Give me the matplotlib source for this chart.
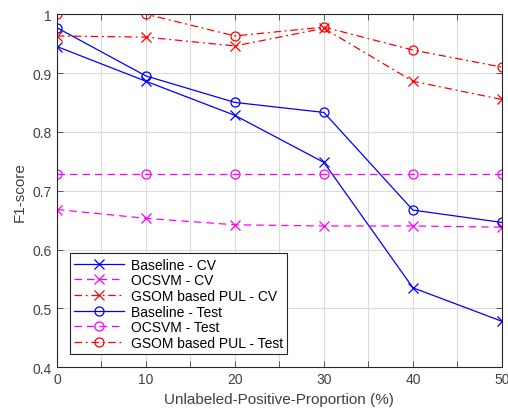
import numpy as np
import matplotlib
matplotlib.use("Agg")
import matplotlib.pyplot as plt

plt.rcParams['font.family'] = ['Liberation Sans', 'DejaVu Sans']

proportions = [0, 10, 20, 30, 40, 50]

baseline_cv = [0.945, 0.886, 0.828, 0.748, 0.535, 0.478]
ocsvm_cv = [0.668, 0.653, 0.642, 0.640, 0.640, 0.638]
gsom_cv = [0.963, 0.961, 0.946, 0.976, 0.886, 0.855]
baseline_test = [0.977, 0.895, 0.850, 0.833, 0.667, 0.646]
ocsvm_test = [0.728, 0.728, 0.728, 0.728, 0.728, 0.728]
gsom_test = [1.0, 1.0, 0.963, 0.978, 0.939, 0.910]

tirets = (0, (6, 4))
tiret_point = (0, (6, 3, 1.5, 3))
series = [
    ("Baseline - CV", baseline_cv, "#0000ff", "-", "x"),
    ("OCSVM - CV", ocsvm_cv, "#ff00ff", tirets, "x"),
    ("GSOM based PUL - CV", gsom_cv, "#ff0000", tiret_point, "x"),
    ("Baseline - Test", baseline_test, "#0000ff", "-", "o"),
    ("OCSVM - Test", ocsvm_test, "#ff00ff", tirets, "o"),
    ("GSOM based PUL - Test", gsom_test, "#ff0000", tiret_point, "o"),
]

fig = plt.figure(figsize=(5.08, 4.10), dpi=100)
ax = fig.add_axes([0.112, 0.102, 0.876, 0.861])

for nom, valeurs, couleur, style, marqueur in series:
    ax.plot(proportions, valeurs, color=couleur, linestyle=style, linewidth=0.9,
            marker=marqueur, markersize=6.5, markerfacecolor="none",
            markeredgewidth=0.9, label=nom)

ax.set_xlim(0, 50)
ax.set_ylim(0.4, 1.0)
ax.set_xticks(np.arange(0, 51, 5))
ax.set_xticklabels([str(v) if v % 10 == 0 else "" for v in range(0, 51, 5)])
ax.set_yticks([0.4, 0.5, 0.6, 0.7, 0.8, 0.9, 1.0])
ax.set_yticklabels(["0.4", "0.5", "0.6", "0.7", "0.8", "0.9", "1"])
ax.grid(True, color="#dcdcdc", linewidth=0.8)
ax.set_axisbelow(True)
ax.tick_params(direction="in", top=True, right=True, labelsize=10,
               colors="#404040", length=4, width=0.6)
for cote in ax.spines.values():
    cote.set_color("#262626")
    cote.set_linewidth(0.8)

ax.set_xlabel("Unlabeled-Positive-Proportion (%)", fontsize=11, color="#404040")
ax.set_ylabel("F1-score", fontsize=11, color="#404040")

leg = ax.legend(loc="lower left", bbox_to_anchor=(0.029, 0.037), borderaxespad=0,
                fontsize=10, fancybox=False, framealpha=1, edgecolor="#262626",
                handlelength=3.6, borderpad=0.3, labelspacing=0.12,
                handletextpad=0.5)
leg.get_frame().set_linewidth(0.8)

fig.savefig("out.png", dpi=100)
